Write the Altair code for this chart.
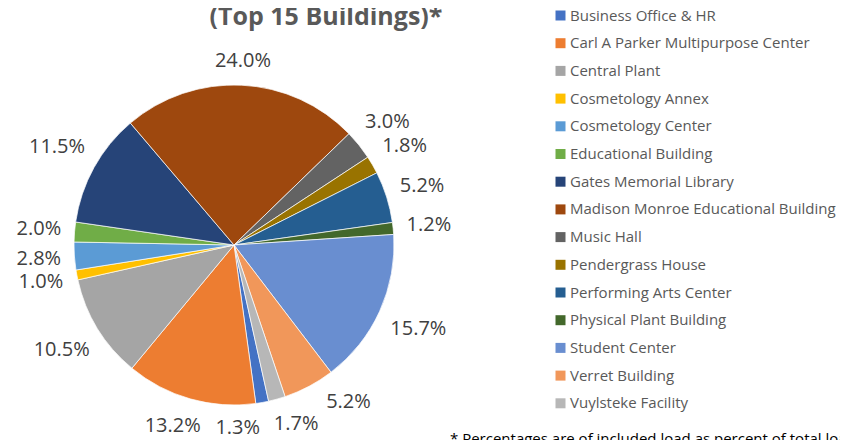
import math
import altair as alt
import pandas as pd

# ---- data ----
buildings = [
    "Business Office & HR", "Carl A Parker Multipurpose Center", "Central Plant",
    "Cosmetology Annex", "Cosmetology Center", "Educational Building",
    "Gates Memorial Library", "Madison Monroe Educational Building", "Music Hall",
    "Pendergrass House", "Performing Arts Center", "Physical Plant Building",
    "Student Center", "Verret Building", "Vuylsteke Facility",
]
shares = [1.3, 13.2, 10.5, 1.0, 2.8, 2.0, 11.5, 24.0, 3.0, 1.8, 5.2, 1.2, 15.7, 5.2, 1.7]
colors = [
    "#4472C4", "#ED7D31", "#A5A5A5", "#FFC000", "#5B9BD5", "#70AD47", "#264478",
    "#9E480E", "#636363", "#997300", "#255E91", "#43682B", "#698ED0", "#F1975A", "#B7B7B7",
]
title_text = "(Top 15 Buildings)*"
footnote_text = "* Percentages are of included load as percent of total load"

# ---- layout / style ----
FONT = "Open Sans"
W, H = 452, 474          # plot area; pie centred in it
R = 160                  # pie radius
START_DEG = 167.5        # angle where the first slice starts (clockwise from 12 o'clock)
LABEL_FS = 20
CHAR_W = 11.5
LABEL_H = 21
GAP_X = 12

labels = [f"{v:.1f}%" for v in shares]
n = len(shares)
total = sum(shares)

# mid angle of every slice, then a simple "best fit" spread so labels do not collide
ang = []
cum = 0.0
for v in shares:
    ang.append(START_DEG + 360.0 * (cum + v / 2.0) / total)
    cum += v


def label_box(i):
    a = math.radians(ang[i])
    w = CHAR_W * len(labels[i])
    s, c = math.sin(a), math.cos(a)
    d = R + 12 + abs(s) * w / 2 + abs(c) * LABEL_H / 2
    return s * d, -c * d, w, d


for _ in range(3000):
    moved = False
    for i in range(n):
        j = (i + 1) % n
        xi, yi, wi, _ = label_box(i)
        xj, yj, wj, _ = label_box(j)
        if abs(xi - xj) < (wi + wj) / 2 + GAP_X and abs(yi - yj) < LABEL_H + 1:
            ang[i] -= 0.2
            ang[j] += 0.2
            moved = True
    if not moved:
        break

lab_theta = [math.radians(a) for a in ang]
lab_r = [label_box(i)[3] for i in range(n)]

df = pd.DataFrame({
    "building": buildings,
    "share": shares,
    "idx": list(range(n)),
    "label": labels,
    "lab_theta": lab_theta,
    "lab_r": lab_r,
})

start = math.radians(START_DEG)

pie = alt.Chart(df).mark_arc(outerRadius=R, stroke="white", strokeWidth=0.7).encode(
    theta=alt.Theta("share:Q", stack=True, scale=alt.Scale(range=[start, start + 2 * math.pi])),
    order=alt.Order("idx:Q"),
    color=alt.Color(
        "building:N",
        sort=buildings,
        scale=alt.Scale(domain=buildings, range=colors),
        legend=alt.Legend(
            title=None, orient="none", legendX=545, legendY=0, padding=0,
            symbolType="square", symbolSize=100, symbolStrokeWidth=0,
            labelFont=FONT, labelFontSize=15, labelColor="#595959",
            labelOffset=2, rowPadding=11.7, labelLimit=400,
        ),
    ),
)

text = alt.Chart(df).mark_text(
    font=FONT, fontSize=LABEL_FS, color="#404040", align="center", baseline="middle"
).encode(
    theta=alt.Theta("lab_theta:Q", scale=None, stack=False),
    radius=alt.Radius("lab_r:Q", scale=None),
    text="label:N",
)

title = alt.Chart(pd.DataFrame({"t": [title_text]})).mark_text(
    font=FONT, fontSize=25, fontWeight="bold", color="#595959", align="center",
    baseline="alphabetic",
).encode(x=alt.value(318), y=alt.value(17), text="t:N")

foot = alt.Chart(pd.DataFrame({"t": [footnote_text]})).mark_text(
    font=FONT, fontSize=15, color="#000000", align="left", baseline="alphabetic",
).encode(x=alt.value(442), y=alt.value(436), text="t:N")

chart = alt.layer(pie, text, title, foot).properties(
    width=W, height=H,
    autosize=alt.AutoSizeParams(type="none"),
    padding={"left": 0, "top": 0, "right": 380, "bottom": 0},
).configure_view(stroke=None)

chart.save("out.html", embed_options={"renderer": "svg", "actions": False})
